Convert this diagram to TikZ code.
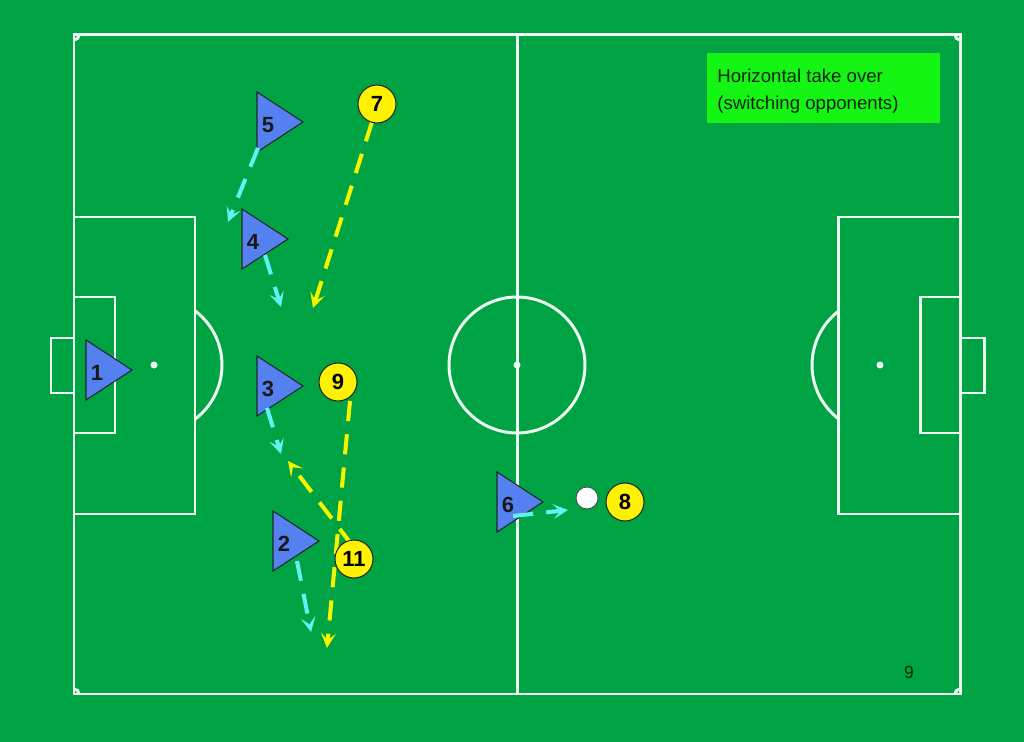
\documentclass[tikz,border=0pt]{standalone}
\usepackage{fontspec}
\setmainfont{Liberation Sans}
\usetikzlibrary{arrows.meta}
\definecolor{pitch}{RGB}{0,163,68}
\definecolor{chalk}{RGB}{236,255,240}
\definecolor{plblue}{RGB}{84,128,240}
\definecolor{runcyan}{RGB}{100,240,240}
\definecolor{runyellow}{RGB}{245,245,0}
\definecolor{boxgreen}{RGB}{20,245,20}
\definecolor{darktext}{RGB}{10,35,10}
\tikzset{
  fieldline/.style={draw=chalk, line width=1.7pt},
  player/.style={draw=black!85, fill=plblue, line width=0.6pt, line join=miter},
  num/.style={font=\fontsize{12.5}{14}\selectfont\bfseries, text=black!90, inner sep=0pt},
  opp/.style={circle, draw=black!85, fill=yellow, line width=0.6pt, minimum size=0.76cm, inner sep=0pt, font=\fontsize{12.5}{14}\selectfont\bfseries},
  ball/.style={circle, draw=black!70, fill=white, line width=0.5pt, minimum size=0.44cm, inner sep=0pt},
  runarrow/.style={line width=2.3pt, dash pattern=on 11.5pt off 7.5pt, -{Stealth[length=8.5pt,width=8.5pt,inset=4pt]}},
  cyanrun/.style={runarrow, draw=runcyan},
  yellowrun/.style={runarrow, draw=runyellow},
}
\newcommand\plyr[4]{%
  \draw[player] (#2,#3-30) -- (#2,#3+30) -- (#2+46,#3) -- cycle;
  \node[num] (#1) at (#2+11,#3+3) {#4};}
\begin{document}
\begin{tikzpicture}[x=0.02cm,y=-0.02cm]
% background
\fill[pitch] (0,0) rectangle (1024,742);
\useasboundingbox (0,0) rectangle (1024,742);
% field
\draw[fieldline] (74,35) rectangle (960,694);
\draw[fieldline] (517,35) -- (517,694);
\draw[fieldline] (517,365) circle[radius=1.36cm];
\fill[chalk] (517,365) circle[radius=0.07cm];
% left
\draw[fieldline] (74,217) rectangle (195,514);
\draw[fieldline] (74,297) rectangle (115,433);
\draw[fieldline] (51,338) rectangle (74,393);
\fill[chalk] (154,365) circle[radius=0.07cm];
\begin{scope}
  \clip (195,0) rectangle (300,742);
  \draw[fieldline] (154,365) circle[radius=1.36cm];
\end{scope}
% right
\draw[fieldline] (838,217) rectangle (960,514);
\draw[fieldline] (920,297) rectangle (960,433);
\draw[fieldline] (960,338) rectangle (984,393);
\fill[chalk] (880,365) circle[radius=0.07cm];
\begin{scope}
  \clip (700,0) rectangle (838,742);
  \draw[fieldline] (880,365) circle[radius=1.36cm];
\end{scope}
% corner arcs
\begin{scope}
  \clip (74,35) rectangle (960,694);
  \foreach \cx/\cy in {74/35,960/35,74/694,960/694}
    \draw[fieldline] (\cx,\cy) circle[radius=0.1cm];
\end{scope}
% caption box
\node[fill=boxgreen, anchor=north west, minimum width=4.66cm, minimum height=1.4cm, inner sep=0pt] (cap) at (707,53) {};
\node[anchor=base west, text=darktext, font=\fontsize{10.6}{13}\selectfont, inner sep=0pt] (cap1) at (717,83) {Horizontal take over};
\node[anchor=base west, text=darktext, font=\fontsize{10.6}{13}\selectfont, inner sep=0pt] (cap2) at (717,110) {(switching opponents)};
% page number
\node[text=darktext, font=\fontsize{10}{12}\selectfont, inner sep=0pt] (pg) at (909,672) {9};
% players
\plyr{p5}{257}{122}{5}
\plyr{p4}{242}{239}{4}
\plyr{p1}{86}{370}{1}
\plyr{p3}{257}{386}{3}
\plyr{p2}{273}{541}{2}
\plyr{p6}{497}{502}{6}
% run coordinates
\coordinate (s5) at (258,148); \coordinate (e5) at (228,222);
\coordinate (s4) at (265,255); \coordinate (e4) at (281,307);
\coordinate (s3) at (267,408); \coordinate (e3) at (281,454);
\coordinate (s2) at (297,561); \coordinate (e2) at (311,632);
\coordinate (s6) at (513,516); \coordinate (e6) at (568,510);
\coordinate (s7) at (372,122); \coordinate (e7) at (313,308);
\coordinate (s9) at (350,401); \coordinate (e9) at (327,648);
\coordinate (s11) at (352,545); \coordinate (e11) at (288,461);
% runs
\draw[cyanrun] (s5) -- (e5);
\draw[cyanrun] (s4) -- (e4);
\draw[cyanrun] (s3) -- (e3);
\draw[cyanrun] (s2) -- (e2);
\draw[cyanrun] (s6) -- (e6);
\draw[yellowrun] (s7) -- (e7);
\draw[yellowrun] (s9) -- (e9);
\draw[yellowrun] (s11) -- (e11);
% opponents and ball
\node[opp] (o7) at (377,104) {7};
\node[opp] (o9) at (338,382) {9};
\node[opp] (o11) at (354,559) {11};
\node[opp] (o8) at (625,502) {8};
\node[ball] (b) at (587,498) {};
\end{tikzpicture}
\end{document}
